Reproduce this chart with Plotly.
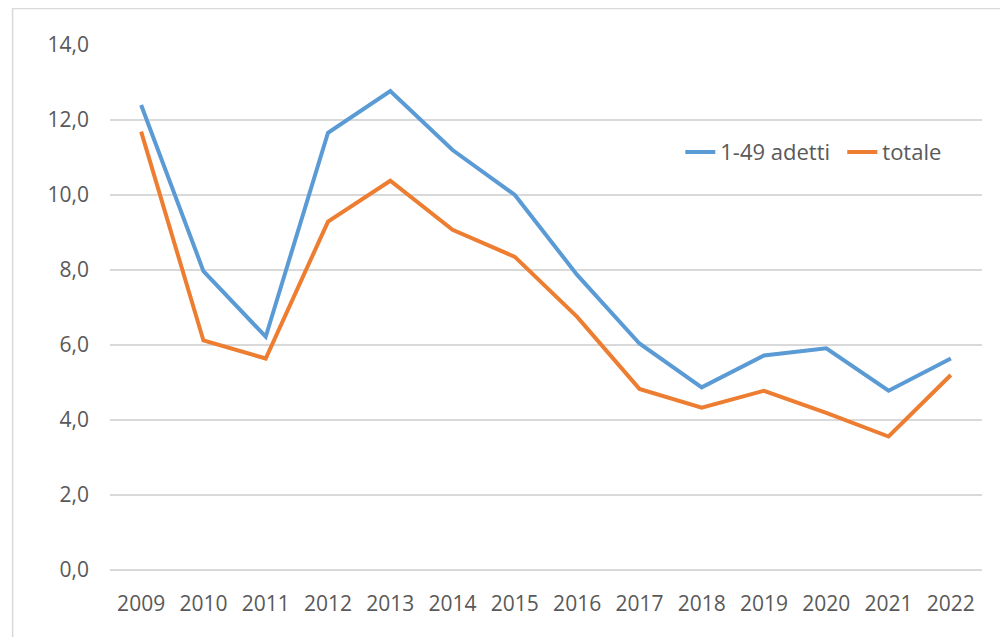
import plotly.graph_objects as go

years = ["2009", "2010", "2011", "2012", "2013", "2014", "2015",
         "2016", "2017", "2018", "2019", "2020", "2021", "2022"]
adetti_1_49 = [12.4, 7.97, 6.22, 11.66, 12.77, 11.2, 10.0,
               7.87, 6.04, 4.87, 5.72, 5.91, 4.78, 5.64]
totale = [11.69, 6.12, 5.64, 9.29, 10.38, 9.07, 8.35,
          6.75, 4.83, 4.33, 4.78, 4.19, 3.56, 5.2]

FONT = "Open Sans"
TXT = "#595959"
GRID = "#D9D9D9"

fig = go.Figure()
fig.add_trace(go.Scatter(x=years, y=adetti_1_49, mode="lines", name="1-49 adetti",
                         line=dict(color="#5B9BD5", width=4)))
fig.add_trace(go.Scatter(x=years, y=totale, mode="lines", name="totale",
                         line=dict(color="#ED7D31", width=4)))

fig.update_layout(
    width=1008, height=637,
    margin=dict(l=102, r=29, t=37, b=75),
    paper_bgcolor="white", plot_bgcolor="white",
    separators=",.",
    font=dict(family=FONT, size=21, color=TXT),
    showlegend=True,
    legend=dict(orientation="h", x=0.654, y=0.796, xanchor="left", yanchor="middle",
                font=dict(family=FONT, size=22, color=TXT),
                bgcolor="rgba(0,0,0,0)", entrywidth=117, tracegroupgap=0),
    shapes=[dict(type="rect", xref="paper", yref="paper",
                 x0=-0.1117, x1=1.2, y0=-0.3, y1=1.0695,
                 line=dict(color=GRID, width=1.5), fillcolor="rgba(0,0,0,0)",
                 layer="below")],
)
fig.update_xaxes(type="category", range=[-0.5, 13.5], showgrid=False,
                 showline=False, zeroline=False, ticks="",
                 ticklabelstandoff=19,
                 tickfont=dict(family=FONT, size=21, color=TXT))
fig.update_yaxes(range=[0, 14], dtick=2, tickformat=".1f", showgrid=True,
                 gridcolor=GRID, gridwidth=1.5, zeroline=True, zerolinecolor=GRID,
                 zerolinewidth=1.5, showline=False, ticks="",
                 ticklabelstandoff=20,
                 tickfont=dict(family=FONT, size=21, color=TXT))

fig.write_html("out.html")
